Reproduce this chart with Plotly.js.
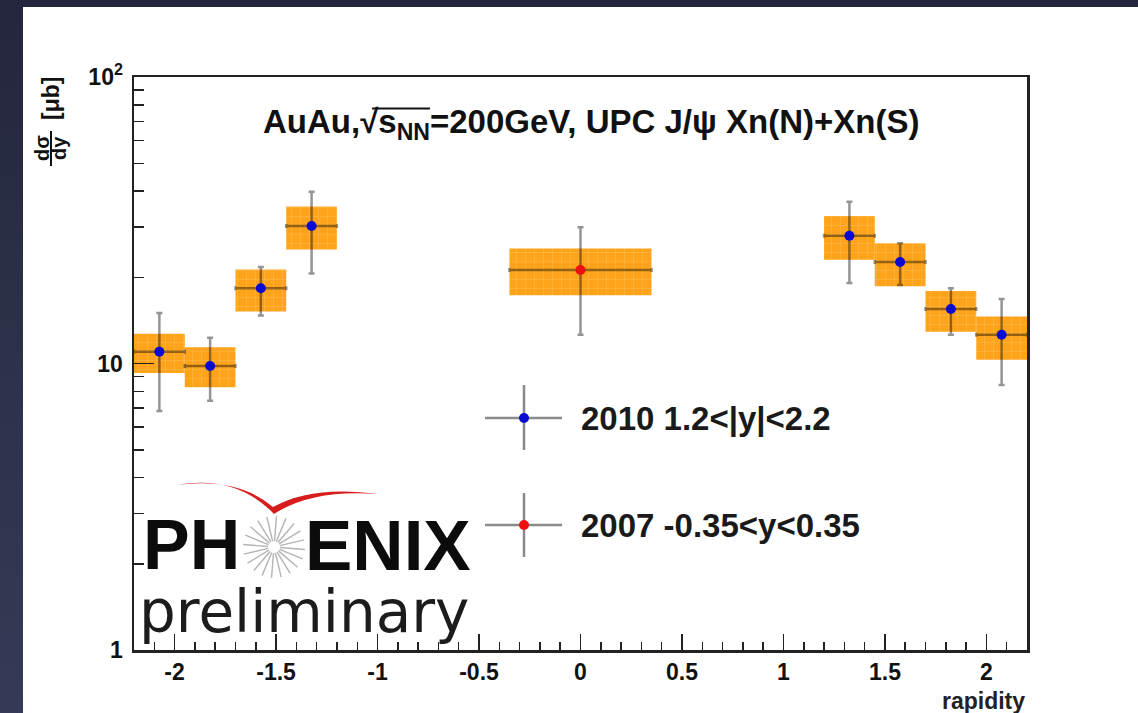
<!DOCTYPE html>
<html>
<head>
<meta charset="utf-8">
<script src="https://cdn.plot.ly/plotly-3.0.1.min.js"></script>
<style>
  html, body { margin: 0; padding: 0; width: 1138px; height: 713px; overflow: hidden;
    background: linear-gradient(180deg, #23263c 0%, #2c3049 45%, #353a56 100%); }
  #chart { position: absolute; left: 23px; top: 7px; width: 1115px; height: 706px; background: #fff; }
</style>
</head>
<body>
<div id="chart"></div>
<script>
// UPC J/psi Xn(N)+Xn(S), AuAu at 200 GeV: dσ/dy versus rapidity

// 2010 forward/backward (muon arms) bins
const rap2010      = [-2.075, -1.825, -1.575, -1.325, 1.325, 1.575, 1.825, 2.075];
const binHalf2010  = [0.125, 0.125, 0.125, 0.125, 0.125, 0.125, 0.125, 0.125];
const xsec2010     = [11.0, 9.8, 18.3, 30.2, 27.9, 22.6, 15.5, 12.6];
const statHi2010   = [15.0, 12.3, 21.7, 39.8, 36.7, 26.3, 18.3, 16.8];
const statLo2010   = [6.83, 7.41, 14.7, 20.6, 19.1, 18.8, 12.6, 8.41];
const sysHi2010    = [12.7, 11.4, 21.3, 35.3, 32.7, 26.3, 17.9, 14.6];
const sysLo2010    = [9.26, 8.26, 15.2, 25.0, 23.0, 18.6, 12.9, 10.3];

// 2007 mid-rapidity (central arm) bin
const rap2007      = [0.0];
const binHalf2007  = [0.35];
const xsec2007     = [21.2];
const statHi2007   = [29.9];
const statLo2007   = [12.6];
const sysHi2007    = [25.2];
const sysLo2007    = [17.3];

// axis ticks
const xTickVals  = [-2, -1.5, -1, -0.5, 0, 0.5, 1, 1.5, 2];
const xTickText  = ['-2', '-1.5', '-1', '-0.5', '0', '0.5', '1', '1.5', '2'];
const yTickVals  = [1, 10, 100];
const yTickText  = ['1', '10', '10<sup>2</sup>'];
const yMinorVals = [2, 3, 4, 5, 6, 7, 8, 9, 20, 30, 40, 50, 60, 70, 80, 90];

// legend labels
const label2010 = '2010 1.2<|y|<2.2';
const label2007 = '2007 -0.35<y<0.35';

const ORANGE = 'rgb(255,163,26)';
const ERRCOL = 'rgba(0,0,0,0.42)';

// plot-frame geometry on the page, used for the decorative overlays
const DIV_L = 23, DIV_T = 7;
const FR_L = 134, FR_R = 1027, FR_T = 77, FR_B = 650;
const px = x => (x - FR_L) / (FR_R - FR_L);
const py = y => (FR_B - y) / (FR_B - FR_T);

const traces = [];

// systematic boxes
function addBoxes(xs, hw, lo, hi) {
  xs.forEach((x, i) => {
    traces.push({
      type: 'scatter', mode: 'lines',
      x: [x - hw[i], x + hw[i], x + hw[i], x - hw[i], x - hw[i]],
      y: [lo[i], lo[i], hi[i], hi[i], lo[i]],
      fill: 'toself', fillcolor: ORANGE,
      fillpattern: { shape: '+', bgcolor: ORANGE, fgcolor: 'rgb(255,185,75)', size: 9, solidity: 0.12 },
      line: { width: 0, color: ORANGE },
      hoverinfo: 'skip', showlegend: false
    });
  });
}
addBoxes(rap2010, binHalf2010, sysLo2010, sysHi2010);
addBoxes(rap2007, binHalf2007, sysLo2007, sysHi2007);

// points with statistical errors
function addPoints(xs, hw, y, hi, lo, color, name) {
  traces.push({
    type: 'scatter', mode: 'markers', name: name,
    x: xs, y: y,
    marker: { color: color, size: 10 },
    error_y: { type: 'data', symmetric: false,
      array: y.map((v, i) => hi[i] - v), arrayminus: y.map((v, i) => v - lo[i]),
      color: ERRCOL, thickness: 2.5, width: 3 },
    error_x: { type: 'data', array: hw, color: ERRCOL, thickness: 2.5, width: 2 },
    showlegend: false
  });
}
addPoints(rap2010, binHalf2010, xsec2010, statHi2010, statLo2010, '#0a0ad0', label2010);
addPoints(rap2007, binHalf2007, xsec2007, statHi2007, statLo2007, '#ee1010', label2007);

const shapes = [];
const annotations = [];
const BOLD = 'Liberation Sans, Arial, sans-serif';

// title, with the bar of the square root over s_NN
annotations.push({
  xref: 'paper', yref: 'paper', x: px(591), y: py(124), xanchor: 'center', yanchor: 'middle',
  text: 'AuAu,√s<sub>NN</sub>=200GeV, UPC J/ψ Xn(N)+Xn(S)', showarrow: false,
  font: { family: BOLD, size: 33, weight: 'bold', color: '#111' }
});
shapes.push({ type: 'line', xref: 'paper', yref: 'paper', x0: px(372), x1: px(430), y0: py(108.5), y1: py(108.5),
  line: { color: '#111', width: 2 } });

// legend (marker with error crosses)
function legendEntry(yc, vTop, vBot, color, label) {
  shapes.push({ type: 'line', xref: 'paper', yref: 'paper', x0: px(485), x1: px(562), y0: py(yc), y1: py(yc),
    line: { color: '#8a8a8a', width: 2.5 } });
  shapes.push({ type: 'line', xref: 'paper', yref: 'paper', x0: px(524), x1: px(524), y0: py(vTop), y1: py(vBot),
    line: { color: '#8a8a8a', width: 2.5 } });
  shapes.push({ type: 'circle', xref: 'paper', yref: 'paper', x0: px(519), x1: px(529), y0: py(yc - 5), y1: py(yc + 5),
    fillcolor: color, line: { width: 0 } });
  annotations.push({ xref: 'paper', yref: 'paper', x: px(579), y: py(yc), xanchor: 'left', yanchor: 'middle',
    text: label, showarrow: false,
    font: { family: BOLD, size: 33, weight: 'bold', color: '#1a1a1a' } });
}
legendEntry(418, 385, 450, '#0a0ad0', label2010);
legendEntry(525, 493, 557, '#ee1010', label2007);

// logo: red swoosh
function pathPx(cmds) {
  return cmds.map(c => {
    const pts = [];
    for (let k = 1; k < c.length; k += 2) pts.push(px(c[k]).toFixed(5) + ',' + py(c[k + 1]).toFixed(5));
    return c[0] + pts.join(' ');
  }).join(' ');
}
shapes.push({
  type: 'path', xref: 'paper', yref: 'paper', layer: 'above',
  path: pathPx([['M', 176, 485], ['Q', 236, 474, 274, 514], ['Q', 312, 489, 378, 494],
               ['Q', 312, 485, 273, 507], ['Q', 238, 477, 176, 485], ['Z']]),
  fillcolor: '#d81c1c', line: { width: 0 }
});
// logo: starburst between H and E
const SC = [274, 547], R0 = 6, R1 = 31, NSP = 20;
for (let k = 0; k < NSP; k++) {
  const a = (k / NSP) * 2 * Math.PI + 0.08;
  shapes.push({ type: 'line', xref: 'paper', yref: 'paper', layer: 'above',
    x0: px(SC[0] + R0 * Math.cos(a)), y0: py(SC[1] + R0 * Math.sin(a)),
    x1: px(SC[0] + R1 * Math.cos(a)), y1: py(SC[1] + R1 * Math.sin(a)),
    line: { color: '#b4b4b4', width: 1.4 } });
}
annotations.push({ xref: 'paper', yref: 'paper', x: px(141), y: py(545), xanchor: 'left', yanchor: 'middle',
  text: 'PH', showarrow: false, font: { family: BOLD, size: 70, weight: 'bold', color: '#0c0c0c' } });
annotations.push({ xref: 'paper', yref: 'paper', x: px(303), y: py(545), xanchor: 'left', yanchor: 'middle',
  text: 'ENIX', showarrow: false, font: { family: BOLD, size: 71, weight: 'bold', color: '#0c0c0c' } });
annotations.push({ xref: 'paper', yref: 'paper', x: px(137), y: py(612), xanchor: 'left', yanchor: 'middle',
  text: 'preliminary', showarrow: false, font: { family: 'DejaVu Sans, sans-serif', size: 58, color: '#1c1c1c' } });

// y-axis title: fraction dσ/dy with [μb]
const YT_FONT = { family: BOLD, size: 23, weight: 'bold', color: '#111' };
const YF_FONT = { family: BOLD, size: 20, weight: 'bold', color: '#111' };
annotations.push({ xref: 'paper', yref: 'paper', x: px(51), y: py(99), xanchor: 'center', yanchor: 'middle',
  text: '[μb]', textangle: -90, showarrow: false, font: YT_FONT });
annotations.push({ xref: 'paper', yref: 'paper', x: px(42), y: py(148), xanchor: 'center', yanchor: 'middle',
  text: 'dσ', textangle: -90, showarrow: false, font: YF_FONT });
annotations.push({ xref: 'paper', yref: 'paper', x: px(59), y: py(148), xanchor: 'center', yanchor: 'middle',
  text: 'dy', textangle: -90, showarrow: false, font: YF_FONT });
shapes.push({ type: 'line', xref: 'paper', yref: 'paper', x0: px(51), x1: px(51), y0: py(131), y1: py(166),
  line: { color: '#111', width: 2 } });

// x-axis title at the right end
annotations.push({ xref: 'paper', yref: 'paper', x: 1, y: py(701), xanchor: 'right', yanchor: 'middle',
  text: 'rapidity', showarrow: false, font: { family: BOLD, size: 23, weight: 'bold', color: '#222' } });

const TICKFONT = { family: BOLD, size: 23, weight: 'bold', color: '#111' };

const layout = {
  width: 1115, height: 706,
  margin: { l: FR_L - DIV_L, r: 1115 - (FR_R - DIV_L), t: FR_T - DIV_T, b: 706 - (FR_B - DIV_T), pad: 0 },
  paper_bgcolor: '#fff', plot_bgcolor: '#fff',
  showlegend: false,
  xaxis: {
    range: [-2.2, 2.2], tickmode: 'array', tickvals: xTickVals, ticktext: xTickText,
    ticks: 'inside', ticklen: 16, tickwidth: 1.8, tickcolor: '#222',
    minor: { ticks: 'inside', ticklen: 8, tickwidth: 1.5, tickcolor: '#222', dtick: 0.1, showgrid: false },
    showline: true, linecolor: '#222', linewidth: 2.5, mirror: true,
    showgrid: false, zeroline: false, tickfont: TICKFONT
  },
  yaxis: {
    type: 'log', range: [0, 2], tickmode: 'array', tickvals: yTickVals, ticktext: yTickText,
    ticks: 'inside', ticklen: 20, tickwidth: 1.8, tickcolor: '#222', ticklabelstandoff: 4,
    minor: { ticks: 'inside', ticklen: 10, tickwidth: 1.5, tickcolor: '#222', tickmode: 'array', tickvals: yMinorVals, showgrid: false },
    showline: true, linecolor: '#222', linewidth: 2.5, mirror: true,
    showgrid: false, zeroline: false, tickfont: TICKFONT
  },
  shapes: shapes,
  annotations: annotations
};

Plotly.newPlot('chart', traces, layout, { staticPlot: true, displayModeBar: false });
</script>
</body>
</html>
